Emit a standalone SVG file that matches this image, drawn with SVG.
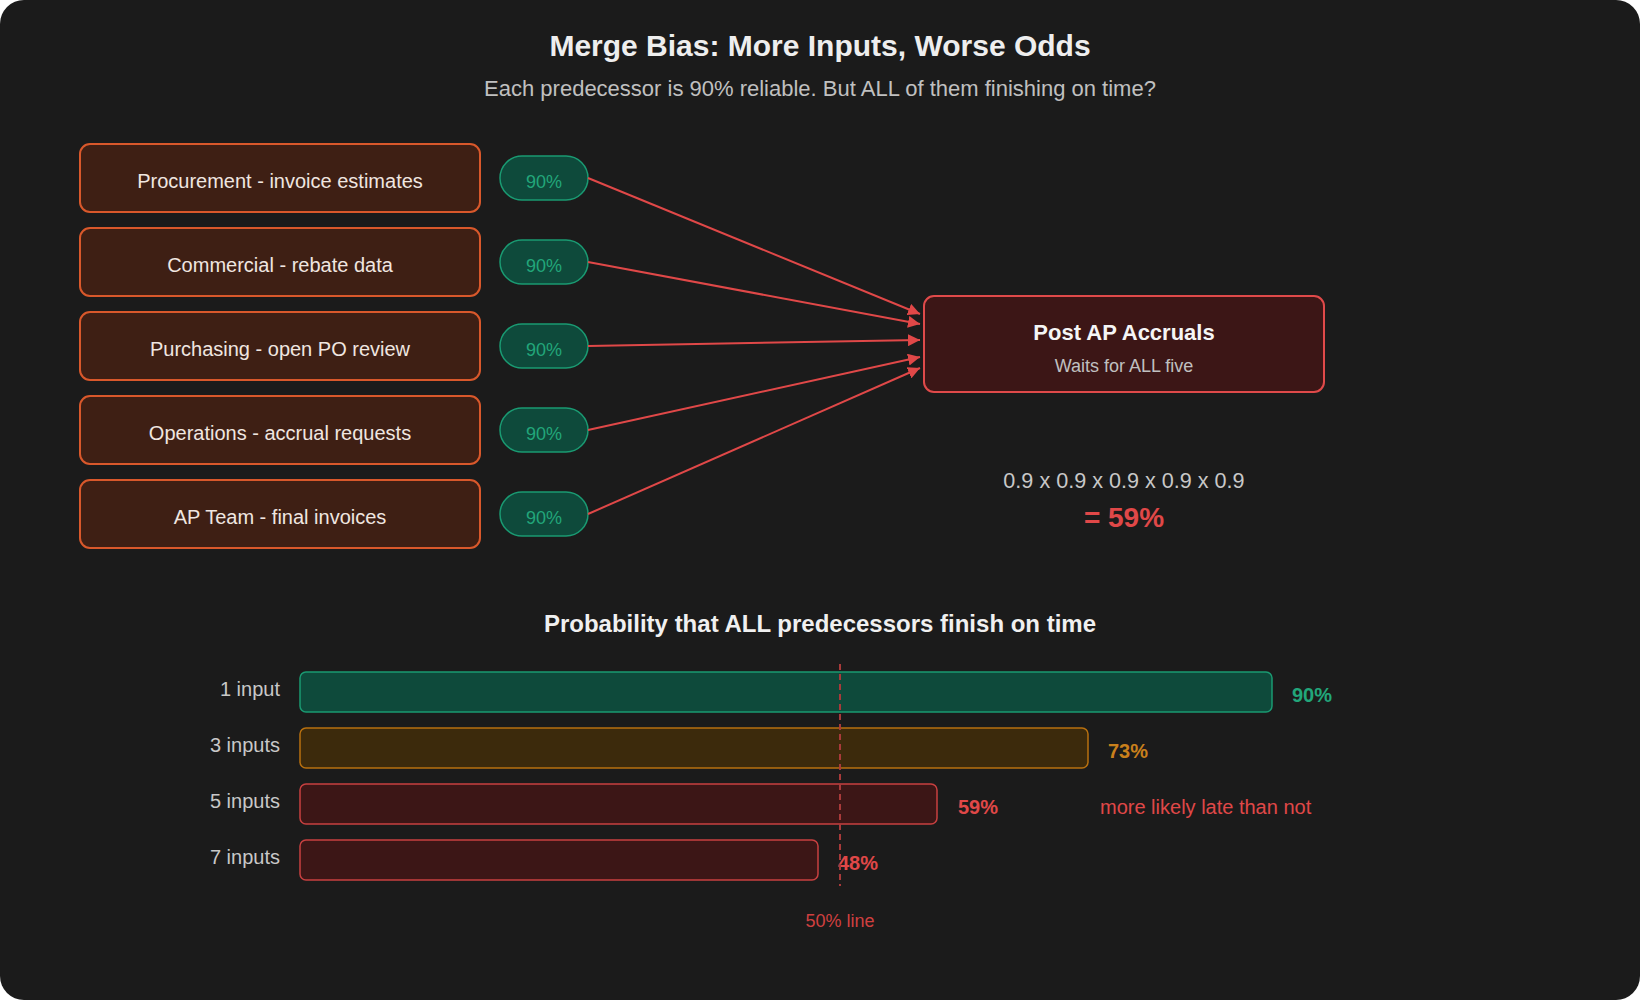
<svg xmlns="http://www.w3.org/2000/svg" width="1640" height="1000" viewBox="0 0 1640 1000">
<style>
text{font-family:"Liberation Sans",Arial,sans-serif}
.src rect{fill:#3e1f14;stroke:#d9582b;stroke-width:2}
.src text{fill:#f0e6e0;font-size:20px;text-anchor:middle}
.pill rect{fill:#0e4a3b;stroke:#1a9a72;stroke-width:1.5}
.pill text{fill:#22a67a;font-size:18px;text-anchor:middle}
.edge{stroke:#e04848;stroke-width:2;fill:none;marker-end:url(#ah)}
.lbl{fill:#c8c8c8;font-size:20px;text-anchor:end}
.val{font-size:20px;font-weight:bold}
</style>
<defs>
<marker id="ah" viewBox="0 0 10 10" refX="10" refY="5" markerWidth="6" markerHeight="6" markerUnits="strokeWidth" orient="auto">
<path d="M0,0 L10,5 L0,10 z" fill="#e04848"/>
</marker>
</defs>
<rect x="0" y="0" width="1640" height="1000" rx="24" fill="#1b1b1b"/>
<text x="820" y="56" text-anchor="middle" font-size="30" font-weight="bold" fill="#eeeeee">Merge Bias: More Inputs, Worse Odds</text>
<text x="820" y="96" text-anchor="middle" font-size="22" fill="#c0c0c0">Each predecessor is 90% reliable. But ALL of them finishing on time?</text>

<g id="src1" class="src"><rect x="80" y="144" width="400" height="68" rx="10"/><text x="280" y="188">Procurement - invoice estimates</text></g>
<g id="src2" class="src"><rect x="80" y="228" width="400" height="68" rx="10"/><text x="280" y="272">Commercial - rebate data</text></g>
<g id="src3" class="src"><rect x="80" y="312" width="400" height="68" rx="10"/><text x="280" y="356">Purchasing - open PO review</text></g>
<g id="src4" class="src"><rect x="80" y="396" width="400" height="68" rx="10"/><text x="280" y="440">Operations - accrual requests</text></g>
<g id="src5" class="src"><rect x="80" y="480" width="400" height="68" rx="10"/><text x="280" y="524">AP Team - final invoices</text></g>

<g id="pill1" class="pill"><rect x="500" y="156" width="88" height="44" rx="22"/><text x="544" y="188">90%</text></g>
<g id="pill2" class="pill"><rect x="500" y="240" width="88" height="44" rx="22"/><text x="544" y="272">90%</text></g>
<g id="pill3" class="pill"><rect x="500" y="324" width="88" height="44" rx="22"/><text x="544" y="356">90%</text></g>
<g id="pill4" class="pill"><rect x="500" y="408" width="88" height="44" rx="22"/><text x="544" y="440">90%</text></g>
<g id="pill5" class="pill"><rect x="500" y="492" width="88" height="44" rx="22"/><text x="544" y="524">90%</text></g>

<g id="connectors">
<line class="edge" x1="588" y1="178" x2="920" y2="314"/>
<line class="edge" x1="588" y1="262" x2="920" y2="324"/>
<line class="edge" x1="588" y1="346" x2="920" y2="340"/>
<line class="edge" x1="588" y1="430" x2="920" y2="357"/>
<line class="edge" x1="588" y1="514" x2="920" y2="368"/>
</g>

<g id="target">
<rect x="924" y="296" width="400" height="96" rx="10" fill="#3c1616" stroke="#e04a4a" stroke-width="2"/>
<text x="1124" y="340" text-anchor="middle" font-size="22" font-weight="bold" fill="#f5f5f5">Post AP Accruals</text>
<text x="1124" y="372" text-anchor="middle" font-size="18" fill="#c0c0c0">Waits for ALL five</text>
</g>

<g id="formula">
<text x="1124" y="488" text-anchor="middle" font-size="21.6" fill="#c8c8c8">0.9 x 0.9 x 0.9 x 0.9 x 0.9</text>
<text x="1124" y="527" text-anchor="middle" font-size="28" font-weight="bold" fill="#e04848">= 59%</text>
</g>

<g id="chart">
<text x="820" y="632" text-anchor="middle" font-size="24" font-weight="bold" fill="#f0f0f0">Probability that ALL predecessors finish on time</text>

<g id="bar1">
<text class="lbl" x="280" y="696">1 input</text>
<rect x="300" y="672" width="972" height="40" rx="6" fill="#0e4a3b" stroke="#1a9a72" stroke-width="1.5"/>
<text class="val" x="1292" y="702" fill="#22a67a">90%</text>
</g>
<g id="bar2">
<text class="lbl" x="280" y="752">3 inputs</text>
<rect x="300" y="728" width="788" height="40" rx="6" fill="#3c2a0c" stroke="#b8700f" stroke-width="1.5"/>
<text class="val" x="1108" y="758" fill="#c9801c">73%</text>
</g>
<g id="bar3">
<text class="lbl" x="280" y="808">5 inputs</text>
<rect x="300" y="784" width="637" height="40" rx="6" fill="#3c1616" stroke="#c84040" stroke-width="1.5"/>
<text class="val" x="958" y="814" fill="#e04848">59%</text>
<text x="1100" y="814" font-size="20" fill="#e04848">more likely late than not</text>
</g>
<g id="bar4">
<text class="lbl" x="280" y="864">7 inputs</text>
<rect x="300" y="840" width="518" height="40" rx="6" fill="#3c1616" stroke="#c84040" stroke-width="1.5"/>
<text class="val" x="838" y="870" fill="#e04848">48%</text>
</g>

<line x1="840" y1="664" x2="840" y2="886" stroke="#a83a3a" stroke-width="2" stroke-dasharray="6 4"/>
<text x="840" y="927" text-anchor="middle" font-size="18" fill="#d04040">50% line</text>
</g>
</svg>
